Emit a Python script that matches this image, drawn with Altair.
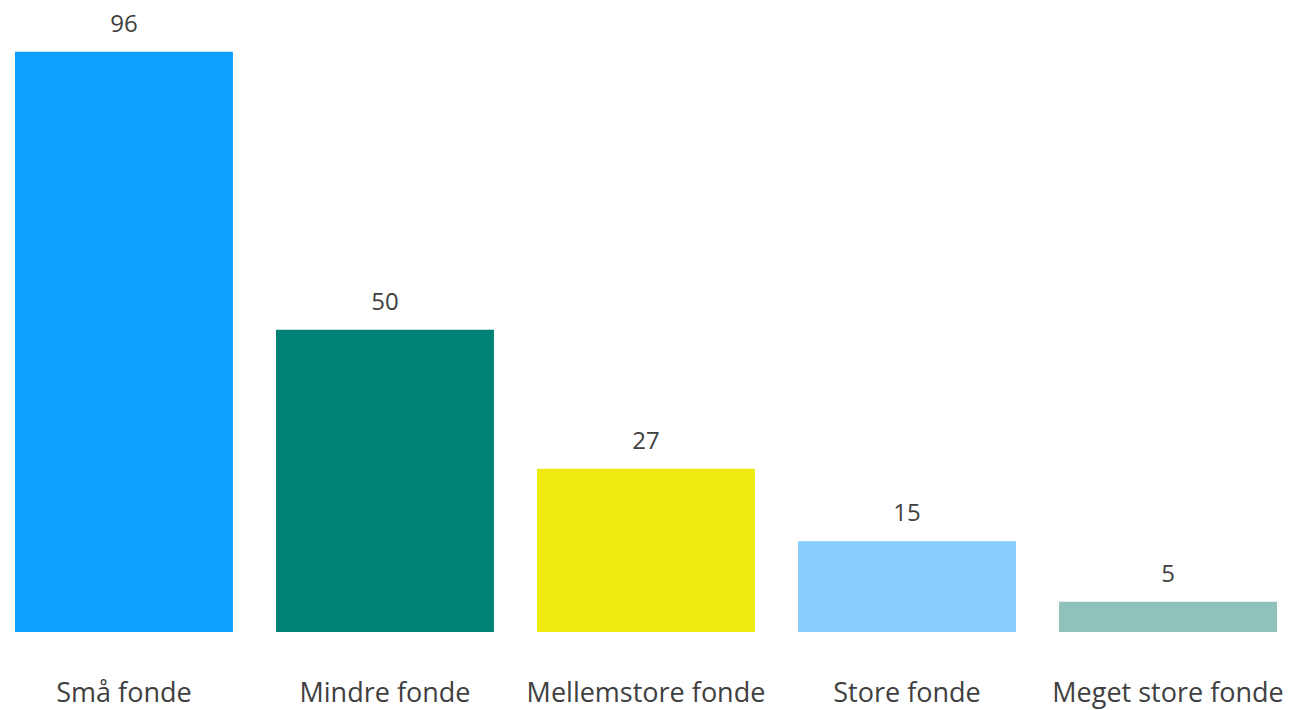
import altair as alt
import pandas as pd

categories = ["Små fonde", "Mindre fonde", "Mellemstore fonde", "Store fonde", "Meget store fonde"]
values = [96, 50, 27, 15, 5]
colors = ["#0FA0FF", "#008176", "#EFEB10", "#87CEFF", "#90C2BC"]

df = pd.DataFrame({"kategori": categories, "antal": values})

x = alt.X("kategori:N", sort=categories, title=None,
          scale=alt.Scale(paddingInner=0.165, paddingOuter=0.0402, align=0.333),
          axis=alt.Axis(labelAngle=0, ticks=False, domain=False, labelFont="Open Sans",
                        labelFontSize=27, labelColor="#404040", labelBaseline="middle",
                        labelPadding=61, labelLimit=1000, labelOverlap=False))
y = alt.Y("antal:Q", title=None, scale=alt.Scale(domain=[0, 105.9], nice=False, zero=True),
          axis=None)

bars = alt.Chart(df).mark_bar().encode(
    x=x, y=y,
    color=alt.Color("kategori:N", sort=categories,
                    scale=alt.Scale(domain=categories, range=colors), legend=None),
)
labels = alt.Chart(df).mark_text(dy=-27, baseline="middle", font="Open Sans",
                                 fontSize=24, color="#404040").encode(
    x=alt.X("kategori:N", sort=categories), y="antal:Q", text="antal:Q")

chart = (bars + labels).properties(
    width=1283, height=640,
    autosize=alt.AutoSizeParams(type="none"),
    padding={"left": 0, "top": -16, "right": 0, "bottom": 78},
).configure(background="white", view=alt.ViewConfig(stroke=None))

chart.save("out.html", embed_options={"renderer": "svg", "actions": False})
